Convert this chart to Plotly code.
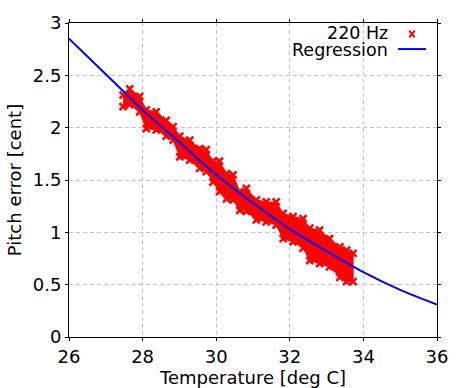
import plotly.graph_objects as go

band_x = [27.47, 27.65, 27.92, 28.10, 28.37, 28.64, 28.83, 29.01, 29.28, 29.55, 29.73,
          29.91, 30.09, 30.28, 30.46, 30.64, 30.82, 31.09, 31.36, 31.63, 31.82, 32.09,
          32.36, 32.54, 32.81, 33.08, 33.36, 33.54, 33.72]
band_upper = [2.31, 2.37, 2.30, 2.17, 2.15, 2.07, 2.01, 1.92, 1.88, 1.80, 1.79,
              1.68, 1.68, 1.56, 1.55, 1.39, 1.42, 1.31, 1.29, 1.29, 1.18, 1.15,
              1.13, 1.04, 1.02, 0.94, 0.86, 0.83, 0.80]
band_lower = [2.20, 2.22, 2.15, 1.99, 1.98, 1.92, 1.88, 1.72, 1.69, 1.61, 1.58,
              1.48, 1.39, 1.32, 1.31, 1.21, 1.20, 1.12, 1.10, 1.07, 0.94, 0.91,
              0.85, 0.73, 0.70, 0.67, 0.57, 0.53, 0.53]

# Regression curve
reg_x = [26, 27, 28, 29, 30, 31, 32, 33, 34, 35, 36]
reg_y = [2.85, 2.51, 2.17, 1.86, 1.55, 1.28, 1.03, 0.82, 0.62, 0.45, 0.31]

x_ticks = [26, 28, 30, 32, 34, 36]
y_ticks = [0, 0.5, 1, 1.5, 2, 2.5, 3]

RED = "#ff0000"
BLUE = "#0000ff"
FONT = "DejaVu Sans"
FS = 18

fig = go.Figure()
fig.add_trace(go.Scatter(
    x=band_x + band_x[::-1], y=band_upper + band_lower[::-1],
    fill="toself", fillcolor=RED, mode="lines",
    line=dict(color=RED, width=1), hoverinfo="skip", showlegend=False))
fig.add_trace(go.Scatter(
    x=band_x + band_x, y=band_upper + band_lower, mode="markers",
    marker=dict(symbol="x-thin", size=7, line=dict(color=RED, width=2.5), color=RED),
    name="220 Hz", showlegend=False))
fig.add_trace(go.Scatter(
    x=reg_x, y=reg_y, mode="lines", line=dict(color=BLUE, width=2, shape="spline"),
    name="Regression", showlegend=False))

axis_common = dict(
    showline=True, linecolor="black", linewidth=1, mirror="ticks",
    ticks="outside", ticklen=3, tickcolor="black",
    showgrid=True, gridcolor="#c4c4c4", griddash="4px,3px", gridwidth=1,
    zeroline=False, tickfont=dict(family=FONT, size=FS, color="black"),
    automargin=False,
)
fig.update_xaxes(range=[26, 36], tickvals=x_ticks,
                 title=dict(text="Temperature [deg C]", font=dict(family=FONT, size=FS, color="black"), standoff=2),
                 **axis_common)
fig.update_yaxes(range=[0, 3], tickvals=y_ticks,
                 title=dict(text="Pitch error [cent]", font=dict(family=FONT, size=FS, color="black"), standoff=6),
                 **axis_common)

# Legend drawn gnuplot-style (key text right-aligned, sample on the right)
shapes = [
    dict(type="line", xref="paper", yref="paper", x0=0.894, x1=0.970, y0=0.917, y1=0.917,
         line=dict(color=BLUE, width=2)),
    dict(type="line", xref="paper", yref="paper", x0=0.9245, x1=0.9395, y0=0.954, y1=0.976,
         line=dict(color=RED, width=2)),
    dict(type="line", xref="paper", yref="paper", x0=0.9245, x1=0.9395, y0=0.976, y1=0.954,
         line=dict(color=RED, width=2)),
]
annotations = [
    dict(text="220 Hz", xref="paper", yref="paper", x=0.872, y=0.968, xanchor="right", yanchor="middle",
         showarrow=False, font=dict(family=FONT, size=17.5, color="black")),
    dict(text="Regression", xref="paper", yref="paper", x=0.872, y=0.914, xanchor="right", yanchor="middle",
         showarrow=False, font=dict(family=FONT, size=17.5, color="black")),
]

fig.update_layout(
    width=472, height=388,
    margin=dict(l=69, r=35, t=23, b=51),
    paper_bgcolor="white", plot_bgcolor="white",
    shapes=shapes, annotations=annotations, showlegend=False,
)
fig.write_html("out.html", config={"displayModeBar": False},
               post_script="document.body.style.margin='0';document.body.style.overflow='hidden';")
